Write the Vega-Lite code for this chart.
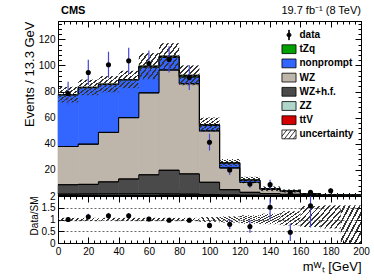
{
  "$schema": "https://vega.github.io/schema/vega-lite/v6.json",
  "background": "white",
  "padding": {"left": 22, "top": 4, "right": 4, "bottom": 4},
  "autosize": {"type": "pad"},
  "config": {
    "font": "Liberation Sans",
    "view": {"stroke": "black", "strokeWidth": 1},
    "axis": {"domainColor": "black", "domainWidth": 1, "tickColor": "black", "tickWidth": 1, "labelColor": "black", "titleColor": "black", "labelFont": "Liberation Sans", "titleFont": "Liberation Sans", "labelFontSize": 10, "titleFontSize": 13, "titleFontWeight": "normal", "grid": false, "labelFlush": false, "labelOverlap": false, "labelPadding": 10},
    "legend": {"labelFont": "Liberation Sans", "labelFontSize": 10, "labelFontWeight": "bold", "labelColor": "black", "symbolSize": 150, "symbolStrokeColor": "black", "symbolStrokeWidth": 0.8, "symbolFillColor": "white", "rowPadding": 0.2, "labelOffset": 3.5, "padding": 0, "labelLimit": 200},
    "text": {"color": "black", "font": "Liberation Sans"}
  },
  "datasets": {
    "mc": [
      {"process": "ttV", "lo": 0, "hi": 13.333, "value": 0.3},
      {"process": "ttV", "lo": 13.333, "hi": 26.667, "value": 0.3},
      {"process": "ttV", "lo": 26.667, "hi": 40, "value": 0.35},
      {"process": "ttV", "lo": 40, "hi": 53.333, "value": 0.35},
      {"process": "ttV", "lo": 53.333, "hi": 66.667, "value": 0.4},
      {"process": "ttV", "lo": 66.667, "hi": 80, "value": 0.4},
      {"process": "ttV", "lo": 80, "hi": 93.333, "value": 0.4},
      {"process": "ttV", "lo": 93.333, "hi": 106.667, "value": 0.3},
      {"process": "ttV", "lo": 106.667, "hi": 120, "value": 0.25},
      {"process": "ttV", "lo": 120, "hi": 133.333, "value": 0.2},
      {"process": "ttV", "lo": 133.333, "hi": 146.667, "value": 0.15},
      {"process": "ttV", "lo": 146.667, "hi": 160, "value": 0.1},
      {"process": "ttV", "lo": 160, "hi": 173.333, "value": 0.1},
      {"process": "ttV", "lo": 173.333, "hi": 186.667, "value": 0.05},
      {"process": "ttV", "lo": 186.667, "hi": 200, "value": 0.05},
      {"process": "ZZ", "lo": 0, "hi": 13.333, "value": 1.1},
      {"process": "ZZ", "lo": 13.333, "hi": 26.667, "value": 1.2},
      {"process": "ZZ", "lo": 26.667, "hi": 40, "value": 1.2},
      {"process": "ZZ", "lo": 40, "hi": 53.333, "value": 1.2},
      {"process": "ZZ", "lo": 53.333, "hi": 66.667, "value": 1.2},
      {"process": "ZZ", "lo": 66.667, "hi": 80, "value": 1.1},
      {"process": "ZZ", "lo": 80, "hi": 93.333, "value": 1.0},
      {"process": "ZZ", "lo": 93.333, "hi": 106.667, "value": 0.7},
      {"process": "ZZ", "lo": 106.667, "hi": 120, "value": 0.5},
      {"process": "ZZ", "lo": 120, "hi": 133.333, "value": 0.35},
      {"process": "ZZ", "lo": 133.333, "hi": 146.667, "value": 0.25},
      {"process": "ZZ", "lo": 146.667, "hi": 160, "value": 0.2},
      {"process": "ZZ", "lo": 160, "hi": 173.333, "value": 0.15},
      {"process": "ZZ", "lo": 173.333, "hi": 186.667, "value": 0.1},
      {"process": "ZZ", "lo": 186.667, "hi": 200, "value": 0.08},
      {"process": "WZ+h.f.", "lo": 0, "hi": 13.333, "value": 7.2},
      {"process": "WZ+h.f.", "lo": 13.333, "hi": 26.667, "value": 7.4},
      {"process": "WZ+h.f.", "lo": 26.667, "hi": 40, "value": 9.25},
      {"process": "WZ+h.f.", "lo": 40, "hi": 53.333, "value": 11.45},
      {"process": "WZ+h.f.", "lo": 53.333, "hi": 66.667, "value": 14.6},
      {"process": "WZ+h.f.", "lo": 66.667, "hi": 80, "value": 18.2},
      {"process": "WZ+h.f.", "lo": 80, "hi": 93.333, "value": 15.5},
      {"process": "WZ+h.f.", "lo": 93.333, "hi": 106.667, "value": 9.5},
      {"process": "WZ+h.f.", "lo": 106.667, "hi": 120, "value": 4.05},
      {"process": "WZ+h.f.", "lo": 120, "hi": 133.333, "value": 2.25},
      {"process": "WZ+h.f.", "lo": 133.333, "hi": 146.667, "value": 1.4},
      {"process": "WZ+h.f.", "lo": 146.667, "hi": 160, "value": 1.0},
      {"process": "WZ+h.f.", "lo": 160, "hi": 173.333, "value": 0.55},
      {"process": "WZ+h.f.", "lo": 173.333, "hi": 186.667, "value": 0.35},
      {"process": "WZ+h.f.", "lo": 186.667, "hi": 200, "value": 0.27},
      {"process": "WZ", "lo": 0, "hi": 13.333, "value": 29.3},
      {"process": "WZ", "lo": 13.333, "hi": 26.667, "value": 30.8},
      {"process": "WZ", "lo": 26.667, "hi": 40, "value": 37.9},
      {"process": "WZ", "lo": 40, "hi": 53.333, "value": 47.0},
      {"process": "WZ", "lo": 53.333, "hi": 66.667, "value": 62.8},
      {"process": "WZ", "lo": 66.667, "hi": 80, "value": 76.8},
      {"process": "WZ", "lo": 80, "hi": 93.333, "value": 69.1},
      {"process": "WZ", "lo": 93.333, "hi": 106.667, "value": 39.4},
      {"process": "WZ", "lo": 106.667, "hi": 120, "value": 16.7},
      {"process": "WZ", "lo": 120, "hi": 133.333, "value": 7.6},
      {"process": "WZ", "lo": 133.333, "hi": 146.667, "value": 3.2},
      {"process": "WZ", "lo": 146.667, "hi": 160, "value": 2.1},
      {"process": "WZ", "lo": 160, "hi": 173.333, "value": 0.5},
      {"process": "WZ", "lo": 173.333, "hi": 186.667, "value": 0.4},
      {"process": "WZ", "lo": 186.667, "hi": 200, "value": 0.3},
      {"process": "nonprompt", "lo": 0, "hi": 13.333, "value": 39.6},
      {"process": "nonprompt", "lo": 13.333, "hi": 26.667, "value": 43.3},
      {"process": "nonprompt", "lo": 26.667, "hi": 40, "value": 36.7},
      {"process": "nonprompt", "lo": 40, "hi": 53.333, "value": 29.0},
      {"process": "nonprompt", "lo": 53.333, "hi": 66.667, "value": 19.8},
      {"process": "nonprompt", "lo": 66.667, "hi": 80, "value": 9.7},
      {"process": "nonprompt", "lo": 80, "hi": 93.333, "value": 5.2},
      {"process": "nonprompt", "lo": 93.333, "hi": 106.667, "value": 4.3},
      {"process": "nonprompt", "lo": 106.667, "hi": 120, "value": 3.8},
      {"process": "nonprompt", "lo": 120, "hi": 133.333, "value": 1.7},
      {"process": "nonprompt", "lo": 133.333, "hi": 146.667, "value": 0.4},
      {"process": "nonprompt", "lo": 146.667, "hi": 160, "value": 0.4},
      {"process": "nonprompt", "lo": 160, "hi": 173.333, "value": 0.2},
      {"process": "nonprompt", "lo": 173.333, "hi": 186.667, "value": 0.1},
      {"process": "nonprompt", "lo": 186.667, "hi": 200, "value": 0.1},
      {"process": "tZq", "lo": 0, "hi": 13.333, "value": 0.2},
      {"process": "tZq", "lo": 13.333, "hi": 26.667, "value": 0.2},
      {"process": "tZq", "lo": 26.667, "hi": 40, "value": 0.2},
      {"process": "tZq", "lo": 40, "hi": 53.333, "value": 0.2},
      {"process": "tZq", "lo": 53.333, "hi": 66.667, "value": 0.6},
      {"process": "tZq", "lo": 66.667, "hi": 80, "value": 0.8},
      {"process": "tZq", "lo": 80, "hi": 93.333, "value": 1.2},
      {"process": "tZq", "lo": 93.333, "hi": 106.667, "value": 0.4},
      {"process": "tZq", "lo": 106.667, "hi": 120, "value": 0.2},
      {"process": "tZq", "lo": 120, "hi": 133.333, "value": 0.1},
      {"process": "tZq", "lo": 133.333, "hi": 146.667, "value": 0.1},
      {"process": "tZq", "lo": 146.667, "hi": 160, "value": 0.05},
      {"process": "tZq", "lo": 160, "hi": 173.333, "value": 0.05},
      {"process": "tZq", "lo": 173.333, "hi": 186.667, "value": 0.05},
      {"process": "tZq", "lo": 186.667, "hi": 200, "value": 0.02}
    ],
    "unc": [
      {"lo": 0, "hi": 13.333, "ulo": 71.7, "uhi": 83.7},
      {"lo": 13.333, "hi": 26.667, "ulo": 77.2, "uhi": 89.2},
      {"lo": 26.667, "hi": 40, "ulo": 79.4, "uhi": 91.8},
      {"lo": 40, "hi": 53.333, "ulo": 82.5, "uhi": 95.9},
      {"lo": 53.333, "hi": 66.667, "ulo": 89.4, "uhi": 109.4},
      {"lo": 66.667, "hi": 80, "ulo": 97, "uhi": 117},
      {"lo": 80, "hi": 93.333, "ulo": 84.8, "uhi": 100},
      {"lo": 93.333, "hi": 106.667, "ulo": 49.1, "uhi": 60.1},
      {"lo": 106.667, "hi": 120, "ulo": 22.7, "uhi": 28.3},
      {"lo": 120, "hi": 133.333, "ulo": 9.7, "uhi": 14.7},
      {"lo": 133.333, "hi": 146.667, "ulo": 3.7, "uhi": 7.3},
      {"lo": 146.667, "hi": 160, "ulo": 2.65, "uhi": 5.05},
      {"lo": 160, "hi": 173.333, "ulo": 1.05, "uhi": 2.05},
      {"lo": 173.333, "hi": 186.667, "ulo": 0.65, "uhi": 1.45},
      {"lo": 186.667, "hi": 200, "ulo": 0.52, "uhi": 1.12}
    ],
    "obs": [
      {"c": 6.667, "n": 78.5, "elo": 70, "ehi": 87.5},
      {"c": 20, "n": 94.6, "elo": 85, "ehi": 104.3},
      {"c": 33.333, "n": 100.5, "elo": 90.5, "ehi": 110.5},
      {"c": 46.667, "n": 103.5, "elo": 93.5, "ehi": 113.5},
      {"c": 60, "n": 101.5, "elo": 91.5, "ehi": 111.5},
      {"c": 73.333, "n": 104.6, "elo": 94.5, "ehi": 114.7},
      {"c": 86.667, "n": 90.7, "elo": 81.2, "ehi": 100.2},
      {"c": 100, "n": 41.2, "elo": 34.8, "ehi": 47.7},
      {"c": 113.333, "n": 20, "elo": 16, "ehi": 24},
      {"c": 126.667, "n": 9.2, "elo": 6.3, "ehi": 12.2},
      {"c": 140, "n": 8.7, "elo": 5.5, "ehi": 12.5},
      {"c": 153.333, "n": 2, "elo": 0.7, "ehi": 3.4},
      {"c": 166.667, "n": 2.8, "elo": 1.2, "ehi": 4.4},
      {"c": 180, "n": 4, "elo": 2, "ehi": 6}
    ],
    "ratio": [
      {"c": 6.667, "r": 1.0, "elo": 0.89, "ehi": 1.11},
      {"c": 20, "r": 1.12, "elo": 1.0, "ehi": 1.24},
      {"c": 33.333, "r": 1.16, "elo": 1.04, "ehi": 1.28},
      {"c": 46.667, "r": 1.16, "elo": 1.04, "ehi": 1.28},
      {"c": 60, "r": 1.02, "elo": 0.92, "ehi": 1.12},
      {"c": 73.333, "r": 0.97, "elo": 0.88, "ehi": 1.07},
      {"c": 86.667, "r": 0.97, "elo": 0.87, "ehi": 1.07},
      {"c": 100, "r": 0.75, "elo": 0.62, "ehi": 0.87},
      {"c": 113.333, "r": 0.8, "elo": 0.6, "ehi": 1.0},
      {"c": 126.667, "r": 0.7, "elo": 0.44, "ehi": 0.98},
      {"c": 140, "r": 1.52, "elo": 1.0, "ehi": 1.9},
      {"c": 153.333, "r": 0.46, "elo": 0.08, "ehi": 0.83},
      {"c": 166.667, "r": 1.58, "elo": 0.66, "ehi": 2.0}
    ],
    "band": [
      {"lo": 0, "hi": 13.333, "blo": 0.93, "bhi": 1.07},
      {"lo": 13.333, "hi": 26.667, "blo": 0.93, "bhi": 1.07},
      {"lo": 26.667, "hi": 40, "blo": 0.93, "bhi": 1.07},
      {"lo": 40, "hi": 53.333, "blo": 0.93, "bhi": 1.07},
      {"lo": 53.333, "hi": 66.667, "blo": 0.93, "bhi": 1.07},
      {"lo": 66.667, "hi": 80, "blo": 0.93, "bhi": 1.07},
      {"lo": 80, "hi": 93.333, "blo": 0.93, "bhi": 1.07},
      {"lo": 93.333, "hi": 106.667, "blo": 0.9, "bhi": 1.1},
      {"lo": 106.667, "hi": 120, "blo": 0.87, "bhi": 1.13},
      {"lo": 120, "hi": 133.333, "blo": 0.82, "bhi": 1.18},
      {"lo": 133.333, "hi": 146.667, "blo": 0.8, "bhi": 1.25},
      {"lo": 146.667, "hi": 160, "blo": 0.75, "bhi": 1.35},
      {"lo": 160, "hi": 173.333, "blo": 0.68, "bhi": 1.57},
      {"lo": 173.333, "hi": 186.667, "blo": 0.62, "bhi": 1.6},
      {"lo": 186.667, "hi": 200, "blo": 0, "bhi": 1.6}
    ]
  },
  "spacing": 0,
  "bounds": "flush",
  "vconcat": [
    {
      "width": 303,
      "height": 175,
      "resolve": {"axis": {"x": "independent", "y": "independent"}},
      "layer": [
        {
          "data": {"name": "mc"},
          "transform": [{"stack": "value", "groupby": ["lo"], "as": ["y0", "y1"]}],
          "mark": {"type": "rect", "strokeWidth": 0.7},
          "encoding": {
            "x": {"field": "lo", "type": "quantitative", "scale": {"domain": [0, 200], "nice": false, "zero": false},
              "axis": {"orient": "bottom", "values": [0,4,8,12,16,20,24,28,32,36,40,44,48,52,56,60,64,68,72,76,80,84,88,92,96,100,104,108,112,116,120,124,128,132,136,140,144,148,152,156,160,164,168,172,176,180,184,188,192,196,200], "labels": false, "title": null, "tickSize": {"condition": {"test": "datum.value % 20 === 0", "value": -7}, "value": -3.5}}},
            "x2": {"field": "hi"},
            "y": {"field": "y0", "type": "quantitative", "scale": {"domain": [0, 134], "nice": false},
              "axis": {"orient": "left", "values": [0,4,8,12,16,20,24,28,32,36,40,44,48,52,56,60,64,68,72,76,80,84,88,92,96,100,104,108,112,116,120,124,128,132], "labelExpr": "datum.value % 20 === 0 && datum.value > 0 ? datum.label : ''", "tickSize": {"condition": {"test": "datum.value % 20 === 0", "value": -7}, "value": -3.5}, "labelPadding": 10, "title": "Events / 13.3 GeV", "titleAnchor": "end", "titlePadding": 2}},
            "y2": {"field": "y1"},
            "fill": {"field": "process", "type": "nominal",
              "scale": {"domain": ["data", "tZq", "nonprompt", "WZ", "WZ+h.f.", "ZZ", "ttV", "uncertainty"], "range": ["#000000", "#00a000", "#3366ff", "#beb6ab", "#4a4a4a", "#b0d6cc", "#d40000", "#ffffff"]},
              "legend": {"title": null, "orient": "none", "legendX": 224, "legendY": 7}},
            "stroke": {"field": "process", "type": "nominal",
              "scale": {"domain": ["tZq", "nonprompt", "WZ", "WZ+h.f.", "ZZ", "ttV"], "range": ["#00a000", "#3366ff", "#beb6ab", "#4a4a4a", "#b0d6cc", "#d40000"]},
              "legend": null}
          }
        },
        {
          "data": {"name": "mc"},
          "transform": [{"stack": "value", "groupby": ["lo"], "as": ["y0", "y1"]}],
          "mark": {"type": "rule", "color": "black", "strokeWidth": 1},
          "encoding": {
            "x": {"field": "lo", "type": "quantitative",
              "axis": {"orient": "top", "values": [0,4,8,12,16,20,24,28,32,36,40,44,48,52,56,60,64,68,72,76,80,84,88,92,96,100,104,108,112,116,120,124,128,132,136,140,144,148,152,156,160,164,168,172,176,180,184,188,192,196,200], "labels": false, "title": null, "tickSize": {"condition": {"test": "datum.value % 20 === 0", "value": -6}, "value": -3}}},
            "x2": {"field": "hi"},
            "y": {"field": "y1", "type": "quantitative",
              "axis": {"orient": "right", "values": [0,4,8,12,16,20,24,28,32,36,40,44,48,52,56,60,64,68,72,76,80,84,88,92,96,100,104,108,112,116,120,124,128,132], "labels": false, "title": null, "tickSize": {"condition": {"test": "datum.value % 20 === 0", "value": -6}, "value": -3}}}
          }
        },
        {
          "data": {"name": "mc"},
          "transform": [{"stack": "value", "groupby": ["lo"], "as": ["y0", "y1"]}],
          "mark": {"type": "line", "interpolate": "step-after", "color": "black", "strokeWidth": 1},
          "encoding": {
            "x": {"field": "lo", "type": "quantitative", "axis": null},
            "y": {"field": "y1", "type": "quantitative", "axis": null},
            "detail": {"field": "process", "type": "nominal"}
          }
        },
        {
          "data": {"name": "unc"},
          "mark": {"type": "rect", "fill": {"gradient": "linear", "x1": 0, "y1": 0, "x2": 1, "y2": 1, "stops": [
            {"offset": 0, "color": "rgba(0,0,0,0)"},
            {"offset": 0.08, "color": "rgba(0,0,0,0)"}, {"offset": 0.08, "color": "#333333"}, {"offset": 0.125, "color": "#333333"}, {"offset": 0.125, "color": "rgba(0,0,0,0)"},
            {"offset": 0.205, "color": "rgba(0,0,0,0)"}, {"offset": 0.205, "color": "#333333"}, {"offset": 0.25, "color": "#333333"}, {"offset": 0.25, "color": "rgba(0,0,0,0)"},
            {"offset": 0.33, "color": "rgba(0,0,0,0)"}, {"offset": 0.33, "color": "#333333"}, {"offset": 0.375, "color": "#333333"}, {"offset": 0.375, "color": "rgba(0,0,0,0)"},
            {"offset": 0.455, "color": "rgba(0,0,0,0)"}, {"offset": 0.455, "color": "#333333"}, {"offset": 0.5, "color": "#333333"}, {"offset": 0.5, "color": "rgba(0,0,0,0)"},
            {"offset": 0.58, "color": "rgba(0,0,0,0)"}, {"offset": 0.58, "color": "#333333"}, {"offset": 0.625, "color": "#333333"}, {"offset": 0.625, "color": "rgba(0,0,0,0)"},
            {"offset": 0.705, "color": "rgba(0,0,0,0)"}, {"offset": 0.705, "color": "#333333"}, {"offset": 0.75, "color": "#333333"}, {"offset": 0.75, "color": "rgba(0,0,0,0)"},
            {"offset": 0.83, "color": "rgba(0,0,0,0)"}, {"offset": 0.83, "color": "#333333"}, {"offset": 0.875, "color": "#333333"}, {"offset": 0.875, "color": "rgba(0,0,0,0)"},
            {"offset": 0.955, "color": "rgba(0,0,0,0)"}, {"offset": 0.955, "color": "#333333"}, {"offset": 1, "color": "#333333"}]}},
          "encoding": {
            "x": {"field": "lo", "type": "quantitative", "axis": null},
            "x2": {"field": "hi"},
            "y": {"field": "ulo", "type": "quantitative", "axis": null},
            "y2": {"field": "uhi"}
          }
        },
        {
          "data": {"name": "obs"},
          "mark": {"type": "rule", "color": "#4646d2", "strokeWidth": 1.2},
          "encoding": {
            "x": {"field": "c", "type": "quantitative", "axis": null},
            "y": {"field": "elo", "type": "quantitative", "axis": null},
            "y2": {"field": "ehi"}
          }
        },
        {
          "data": {"name": "obs"},
          "mark": {"type": "point", "shape": "circle", "filled": true, "color": "black", "opacity": 1, "size": 26},
          "encoding": {
            "x": {"field": "c", "type": "quantitative", "axis": null},
            "y": {"field": "n", "type": "quantitative", "axis": null}
          }
        },
        {
          "data": {"name": "mc"},
          "mark": {"type": "point", "filled": true, "opacity": 0},
          "encoding": {
            "x": {"field": "lo", "type": "quantitative", "axis": null},
            "y": {"field": "value", "type": "quantitative", "axis": null},
            "fill": {"field": "process", "type": "nominal",
              "scale": {"domain": ["data", "tZq", "nonprompt", "WZ", "WZ+h.f.", "ZZ", "ttV", "uncertainty"], "range": ["#000000", "#00a000", "#3366ff", "#beb6ab", "#4a4a4a", "#b0d6cc", "#d40000", "#ffffff"]},
              "legend": {"title": null, "orient": "none", "legendX": 224, "legendY": 7}},
            "shape": {"field": "process", "type": "nominal",
              "scale": {"domain": ["data", "tZq", "nonprompt", "WZ", "WZ+h.f.", "ZZ", "ttV", "uncertainty"], "range": [
                "M0.33,0A0.33,0.33 0 1,1 -0.33,0A0.33,0.33 0 1,1 0.33,0ZM-0.06,-0.8H0.06V0.8H-0.06Z",
                "M-1.15,-0.72H1.15V0.72H-1.15Z",
                "M-1.15,-0.72H1.15V0.72H-1.15Z",
                "M-1.15,-0.72H1.15V0.72H-1.15Z",
                "M-1.15,-0.72H1.15V0.72H-1.15Z",
                "M-1.15,-0.72H1.15V0.72H-1.15Z",
                "M-1.15,-0.72H1.15V0.72H-1.15Z",
                "M-1.15,-0.72H1.15V0.72H-1.15ZM-1.15,0.3L-0.35,-0.72M-0.75,0.72L0.37,-0.72M-0.03,0.72L1.09,-0.72M0.69,0.72L1.15,0.13"]},
              "legend": {"title": null, "orient": "none", "legendX": 224, "legendY": 7}}
          }
        },
        {
          "data": {"values": [{}]},
          "mark": {"type": "text", "text": "CMS", "align": "left", "baseline": "alphabetic", "dx": 3, "dy": -7, "fontWeight": "bold", "fontSize": 11},
          "encoding": {
            "x": {"datum": 0, "type": "quantitative", "axis": null},
            "y": {"datum": 134, "type": "quantitative", "axis": null}
          }
        },
        {
          "data": {"values": [{}]},
          "mark": {"type": "text", "text": "19.7 fb⁻¹ (8 TeV)", "align": "right", "baseline": "alphabetic", "dx": 0, "dy": -7, "fontSize": 11},
          "encoding": {
            "x": {"datum": 200, "type": "quantitative", "axis": null},
            "y": {"datum": 134, "type": "quantitative", "axis": null}
          }
        }
      ]
    },
    {
      "width": 303,
      "height": 47,
      "resolve": {"axis": {"x": "independent", "y": "independent"}},
      "layer": [
        {
          "data": {"name": "band"},
          "mark": {"type": "rect", "fill": {"gradient": "linear", "x1": 0, "y1": 0, "x2": 1, "y2": 1, "stops": [
            {"offset": 0, "color": "rgba(0,0,0,0)"},
            {"offset": 0.08, "color": "rgba(0,0,0,0)"}, {"offset": 0.08, "color": "#333333"}, {"offset": 0.125, "color": "#333333"}, {"offset": 0.125, "color": "rgba(0,0,0,0)"},
            {"offset": 0.205, "color": "rgba(0,0,0,0)"}, {"offset": 0.205, "color": "#333333"}, {"offset": 0.25, "color": "#333333"}, {"offset": 0.25, "color": "rgba(0,0,0,0)"},
            {"offset": 0.33, "color": "rgba(0,0,0,0)"}, {"offset": 0.33, "color": "#333333"}, {"offset": 0.375, "color": "#333333"}, {"offset": 0.375, "color": "rgba(0,0,0,0)"},
            {"offset": 0.455, "color": "rgba(0,0,0,0)"}, {"offset": 0.455, "color": "#333333"}, {"offset": 0.5, "color": "#333333"}, {"offset": 0.5, "color": "rgba(0,0,0,0)"},
            {"offset": 0.58, "color": "rgba(0,0,0,0)"}, {"offset": 0.58, "color": "#333333"}, {"offset": 0.625, "color": "#333333"}, {"offset": 0.625, "color": "rgba(0,0,0,0)"},
            {"offset": 0.705, "color": "rgba(0,0,0,0)"}, {"offset": 0.705, "color": "#333333"}, {"offset": 0.75, "color": "#333333"}, {"offset": 0.75, "color": "rgba(0,0,0,0)"},
            {"offset": 0.83, "color": "rgba(0,0,0,0)"}, {"offset": 0.83, "color": "#333333"}, {"offset": 0.875, "color": "#333333"}, {"offset": 0.875, "color": "rgba(0,0,0,0)"},
            {"offset": 0.955, "color": "rgba(0,0,0,0)"}, {"offset": 0.955, "color": "#333333"}, {"offset": 1, "color": "#333333"}]}},
          "encoding": {
            "x": {"field": "lo", "type": "quantitative", "scale": {"domain": [0, 200], "nice": false, "zero": false},
              "axis": {"orient": "bottom", "values": [0,4,8,12,16,20,24,28,32,36,40,44,48,52,56,60,64,68,72,76,80,84,88,92,96,100,104,108,112,116,120,124,128,132,136,140,144,148,152,156,160,164,168,172,176,180,184,188,192,196,200], "labelExpr": "datum.value % 20 === 0 ? datum.label : ''", "tickSize": {"condition": {"test": "datum.value % 20 === 0", "value": -6}, "value": -3}, "labelPadding": 9, "title": "mᵂₜ [GeV]", "titleAnchor": "end", "titlePadding": 1, "titleFontSize": 13}},
            "x2": {"field": "hi"},
            "y": {"field": "blo", "type": "quantitative", "scale": {"domain": [0, 2], "nice": false},
              "axis": {"orient": "left", "values": [0, 0.5, 1, 1.5, 2], "format": "~g", "tickSize": -6, "labelPadding": 9, "grid": true, "gridDash": [2, 2], "gridColor": "#444444", "gridWidth": 0.8, "title": "Data/SM", "titleAnchor": "end", "titlePadding": 2, "titleFontSize": 10}},
            "y2": {"field": "bhi"}
          }
        },
        {
          "data": {"name": "ratio"},
          "mark": {"type": "rule", "color": "#4646d2", "strokeWidth": 1.2},
          "encoding": {
            "x": {"field": "c", "type": "quantitative",
              "axis": {"orient": "top", "values": [0,4,8,12,16,20,24,28,32,36,40,44,48,52,56,60,64,68,72,76,80,84,88,92,96,100,104,108,112,116,120,124,128,132,136,140,144,148,152,156,160,164,168,172,176,180,184,188,192,196,200], "labels": false, "title": null, "tickSize": {"condition": {"test": "datum.value % 20 === 0", "value": -6}, "value": -3}}},
            "y": {"field": "elo", "type": "quantitative",
              "axis": {"orient": "right", "values": [0, 0.5, 1, 1.5, 2], "labels": false, "title": null, "tickSize": -5}},
            "y2": {"field": "ehi"}
          }
        },
        {
          "data": {"name": "ratio"},
          "mark": {"type": "point", "shape": "circle", "filled": true, "color": "black", "opacity": 1, "size": 26},
          "encoding": {
            "x": {"field": "c", "type": "quantitative", "axis": null},
            "y": {"field": "r", "type": "quantitative", "axis": null}
          }
        }
      ]
    }
  ]
}
